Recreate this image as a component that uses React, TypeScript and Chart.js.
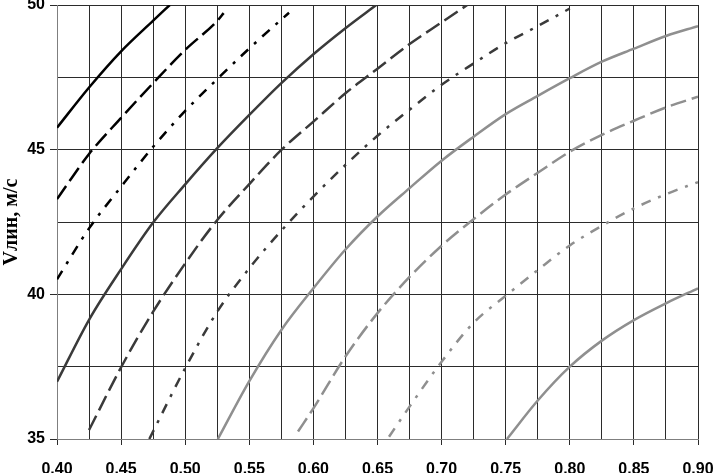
import React, { useEffect, useRef } from 'react';
import { Chart, registerables } from 'chart.js';

Chart.register(...registerables);

// ---- data ----
const c1X = [0.4, 0.425, 0.45, 0.475, 0.488];
const c1Y = [45.76, 47.15, 48.4, 49.46, 50.0];

const c2X = [0.4, 0.425, 0.45, 0.475, 0.5, 0.525, 0.53];
const c2Y = [43.29, 44.85, 46.1, 47.3, 48.45, 49.45, 49.72];

const c3X = [0.4, 0.425, 0.45, 0.475, 0.5, 0.525, 0.55, 0.575, 0.581];
const c3Y = [40.52, 42.28, 43.72, 45.1, 46.34, 47.44, 48.5, 49.5, 49.73];

const c4X = [0.4, 0.425, 0.45, 0.475, 0.5, 0.525, 0.55, 0.575, 0.6, 0.625, 0.649];
const c4Y = [36.98, 39.12, 40.87, 42.48, 43.8, 45.05, 46.2, 47.3, 48.3, 49.2, 50.0];

const c5X = [0.425, 0.45, 0.475, 0.5, 0.525, 0.55, 0.575, 0.6, 0.625, 0.65, 0.675, 0.7, 0.72];
const c5Y = [35.31, 37.48, 39.4, 41.07, 42.57, 43.81, 44.99, 45.97, 46.95, 47.8, 48.65, 49.4, 50.0];

const c6X = [0.472, 0.5, 0.525, 0.55, 0.575, 0.6, 0.625, 0.65, 0.675, 0.7, 0.725, 0.75, 0.775, 0.8];
const c6Y = [35.0, 37.45, 39.4, 40.9, 42.2, 43.38, 44.47, 45.48, 46.38, 47.24, 47.98, 48.68, 49.27, 49.88];

const c7X = [0.5255, 0.55, 0.575, 0.6, 0.625, 0.65, 0.675, 0.7, 0.725, 0.75, 0.775, 0.8, 0.825, 0.85, 0.875, 0.9];
const c7Y = [35.0, 37.0, 38.77, 40.21, 41.55, 42.69, 43.67, 44.62, 45.45, 46.23, 46.86, 47.47, 48.04, 48.49, 48.93, 49.27];

const c8X = [0.588, 0.6, 0.625, 0.65, 0.675, 0.7, 0.725, 0.75, 0.775, 0.8, 0.825, 0.85, 0.875, 0.9];
const c8Y = [35.26, 36.06, 37.85, 39.35, 40.6, 41.68, 42.6, 43.45, 44.2, 44.93, 45.51, 46.0, 46.46, 46.83];

const c9X = [0.659, 0.675, 0.7, 0.725, 0.75, 0.775, 0.8, 0.825, 0.85, 0.875, 0.9];
const c9Y = [35.08, 36.12, 37.67, 39.02, 39.95, 40.84, 41.69, 42.37, 42.97, 43.46, 43.88];

const c10X = [0.751, 0.775, 0.8, 0.825, 0.85, 0.875, 0.9];
const c10Y = [35.0, 36.33, 37.5, 38.4, 39.11, 39.69, 40.21];

const xMin = 0.4;
const xMax = 0.9;
const xStep = 0.025;
const yMin = 35;
const yMax = 50;
const yStep = 2.5;
const yTitle = 'Vлин, м/с';

// ---- styles ----
const BLACK = '#000000';
const DARK = '#3a3a3a';
const GREY = '#8f8f8f';
const SOLID: number[] = [];
const LONGDASH = [16, 6];
const DASHDOT = [10, 8, 3, 8];

const seriesDefs = [
  { xs: c1X, ys: c1Y, color: BLACK, dash: SOLID },
  { xs: c2X, ys: c2Y, color: BLACK, dash: LONGDASH },
  { xs: c3X, ys: c3Y, color: BLACK, dash: DASHDOT },
  { xs: c4X, ys: c4Y, color: DARK, dash: SOLID },
  { xs: c5X, ys: c5Y, color: DARK, dash: LONGDASH },
  { xs: c6X, ys: c6Y, color: DARK, dash: DASHDOT },
  { xs: c7X, ys: c7Y, color: GREY, dash: SOLID },
  { xs: c8X, ys: c8Y, color: GREY, dash: LONGDASH },
  { xs: c9X, ys: c9Y, color: GREY, dash: DASHDOT },
  { xs: c10X, ys: c10Y, color: GREY, dash: SOLID },
];

export default function App() {
  const ref = useRef<HTMLCanvasElement | null>(null);

  useEffect(() => {
    document.body.style.margin = '0';
    const canvas = ref.current;
    if (!canvas) return;
    const tickFont = { family: 'Liberation Sans', size: 16, weight: 'bold' as const };
    const chart = new Chart(canvas, {
      type: 'line',
      data: {
        datasets: seriesDefs.map((s, i) => ({
          label: 'c' + (i + 1),
          data: s.xs.map((x, j) => ({ x, y: s.ys[j] })),
          borderColor: s.color,
          backgroundColor: s.color,
          borderWidth: 2.5,
          borderDash: s.dash,
          borderCapStyle: 'butt' as const,
          pointRadius: 0,
          fill: false,
          cubicInterpolationMode: 'monotone' as const,
        })),
      },
      options: {
        animation: false,
        responsive: false,
        devicePixelRatio: 1,
        layout: { padding: { top: 5, right: 16, left: 0, bottom: 0 } },
        plugins: { legend: { display: false }, tooltip: { enabled: false } },
        scales: {
          x: {
            type: 'linear',
            min: xMin,
            max: xMax,
            border: { color: '#7f7f7f', width: 1 },
            grid: {
              color: '#2b2b2b',
              lineWidth: 1,
              tickLength: 6,
              tickColor: (ctx: any) => (ctx.index % 2 === 0 ? '#2b2b2b' : 'rgba(0,0,0,0)'),
            },
            ticks: {
              stepSize: xStep,
              autoSkip: false,
              maxRotation: 0,
              padding: 15,
              color: '#000',
              font: tickFont,
              callback: (v: any, i: number) => (i % 2 === 0 ? Number(v).toFixed(2) : ''),
            },
            afterFit: (scale: any) => {
              scale.height = 34;
              scale.paddingLeft = 0;
              scale.paddingRight = 0;
            },
          },
          y: {
            type: 'linear',
            min: yMin,
            max: yMax,
            border: { color: '#7f7f7f', width: 1 },
            grid: {
              color: '#2b2b2b',
              lineWidth: 1,
              tickLength: 7,
              tickColor: (ctx: any) => (ctx.index % 2 === 0 ? '#2b2b2b' : 'rgba(0,0,0,0)'),
            },
            ticks: {
              stepSize: yStep,
              autoSkip: false,
              padding: 5,
              color: '#000',
              font: tickFont,
              callback: (v: any) => (Math.abs(Number(v) % 5) < 1e-9 ? String(Number(v)) : ''),
            },
            title: {
              display: true,
              text: yTitle,
              color: '#000',
              font: { family: 'Liberation Serif', size: 20, weight: 'bold' },
              padding: { top: 0, bottom: 0 },
            },
            afterFit: (scale: any) => {
              scale.width = 57;
              scale.paddingTop = 0;
              scale.paddingBottom = 0;
            },
          },
        },
      },
    });
    return () => chart.destroy();
  }, []);

  return (
    <div style={{ width: 714, height: 473, background: '#fff' }}>
      <canvas ref={ref} width={714} height={473} style={{ display: 'block' }} />
    </div>
  );
}
